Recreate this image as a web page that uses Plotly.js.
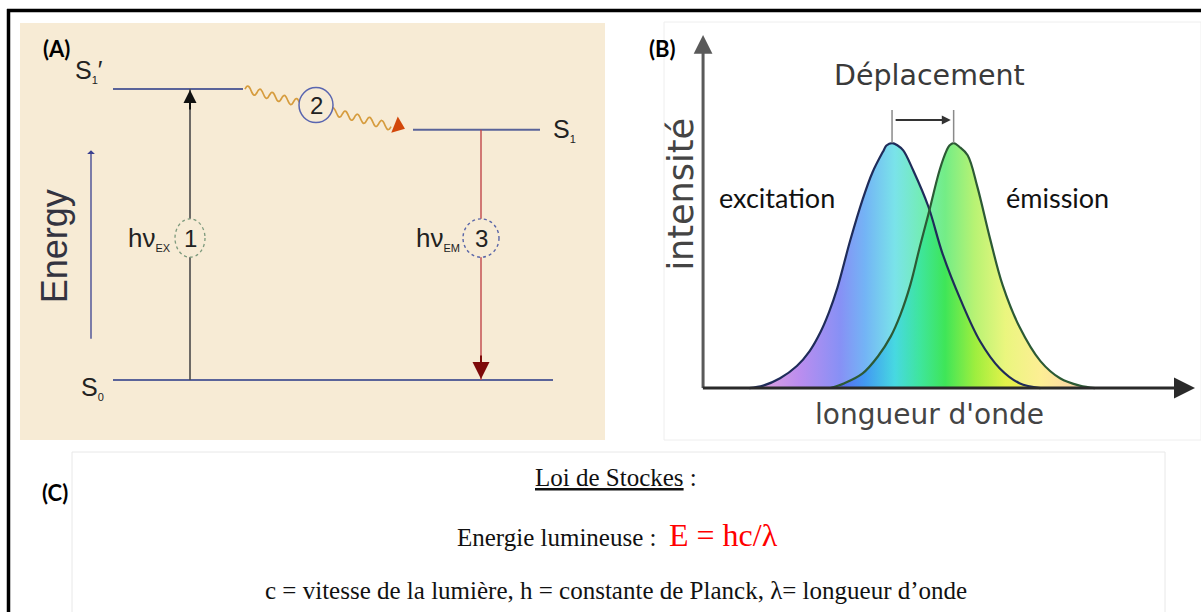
<!DOCTYPE html>
<html><head><meta charset="utf-8">
<script src="https://cdn.plot.ly/plotly-3.0.1.min.js"></script>
<style>html,body{margin:0;padding:0;background:#fff}#chart{width:1201px;height:612px}</style>
</head><body><div id="chart"></div>
<script>
// ---------------- data ----------------
// Panel A : Jablonski diagram (relative energy of the states)
const levelNames  = ['S0', 'S1', "S1'"];
const levelEnergy = [0, 0.86, 1.0];
const transitionLabels = ['1', '2', '3'];

// Panel B : excitation / emission spectra (wavelength in nm, relative intensity)
const exWavelength = [383, 393, 405, 417, 426, 434, 440, 446, 455, 464, 471, 479, 481, 485, 489, 493, 500, 511, 521, 534, 548, 562, 576, 591];
const exIntensity  = [0, 0.01, 0.04, 0.09, 0.15, 0.23, 0.31, 0.41, 0.60, 0.77, 0.88, 0.97, 0.99, 1.0, 0.99, 0.97, 0.89, 0.74, 0.55, 0.36, 0.19, 0.08, 0.02, 0];
const emWavelength = [441, 451, 464, 475, 484, 491, 498, 505, 511, 519, 524, 526, 529, 533, 539, 546, 555, 564, 576, 591, 605, 619, 630];
const emIntensity  = [0, 0.02, 0.06, 0.13, 0.21, 0.30, 0.42, 0.58, 0.71, 0.89, 0.97, 0.99, 1.0, 0.985, 0.95, 0.82, 0.61, 0.42, 0.25, 0.11, 0.04, 0.01, 0];

// ---------------- helpers ----------------
const W = 1201, H = 612;
const px = v => v / W;          // pixel -> paper x
const py = v => 1 - v / H;      // pixel -> paper y
const E = i => levelEnergy[i];
const argmax = a => a.indexOf(Math.max(...a));
const exPeak = exWavelength[argmax(exIntensity)];
const emPeak = emWavelength[argmax(emIntensity)];

function squiggle(xa, ya, xb, yb, waves, amp) {
  const xs = [], ys = [], n = waves * 12;
  for (let i = 0; i <= n; i++) {
    const t = i / n;
    xs.push(xa + (xb - xa) * t);
    ys.push(ya + (yb - ya) * t + amp * Math.sin(2 * Math.PI * waves * t));
  }
  return {xs, ys};
}

const beige = '#f7ebd5';
const levelColor = '#5a6399';
const sansA = 'Liberation Sans, Arial, sans-serif';
const sansB = 'DejaVu Sans, sans-serif';
const serif = 'Liberation Serif, Times New Roman, serif';
const lato = 'Lato, sans-serif';

const traces = [];
// energy levels
const levelSpan = [[113, 553], [413, 540], [113, 243]];
levelEnergy.forEach((e, i) => {
  traces.push({x: levelSpan[i], y: [e, e], xaxis: 'x', yaxis: 'y', mode: 'lines',
    line: {color: levelColor, width: 2}, hoverinfo: 'skip', name: levelNames[i]});
});
// transition 1 (absorption) S0 -> S1'
traces.push({x: [190, 190], y: [E(0), E(2)], xaxis: 'x', yaxis: 'y', mode: 'lines',
  line: {color: '#4a4a4a', width: 1.6}, hoverinfo: 'skip'});
// transition 3 (emission) S1 -> S0
traces.push({x: [481, 481], y: [E(1), E(0)], xaxis: 'x', yaxis: 'y', mode: 'lines',
  line: {color: '#c0474a', width: 1.4}, hoverinfo: 'skip'});
// transition 2 (vibrational relaxation) S1' -> S1 : wavy line
const sq = squiggle(245, E(2), 391, E(1) + 0.011, 12, 0.013);
traces.push({x: sq.xs, y: sq.ys, xaxis: 'x', yaxis: 'y', mode: 'lines',
  line: {color: '#d69c3e', width: 1.7, shape: 'spline'}, hoverinfo: 'skip'});
traces.push({x: [398], y: [E(1) + 0.013], xaxis: 'x', yaxis: 'y', mode: 'markers',
  marker: {symbol: 'triangle-right', size: 15, angle: 22, color: '#d2470a', line: {width: 0}}, hoverinfo: 'skip'});

// spectra
const rainbow = [
  [0.000, 'rgba(200,100,200,0.6)'],
  [0.126, 'rgba(150,80,230,0.65)'],
  [0.252, 'rgba(70,85,240,0.65)'],
  [0.330, 'rgba(40,140,240,0.65)'],
  [0.422, 'rgba(40,210,220,0.62)'],
  [0.500, 'rgba(30,225,140,0.62)'],
  [0.578, 'rgba(30,225,60,0.62)'],
  [0.670, 'rgba(140,235,30,0.62)'],
  [0.765, 'rgba(220,240,40,0.6)'],
  [0.874, 'rgba(250,225,60,0.55)'],
  [1.000, 'rgba(250,175,100,0.55)']
];
const grad = {type: 'horizontal', start: 390, stop: 620, colorscale: rainbow};
const smooth = {shape: 'spline', smoothing: 1};
traces.push({x: exWavelength, y: exIntensity, xaxis: 'x2', yaxis: 'y2', mode: 'lines', fill: 'tozeroy',
  fillgradient: grad, line: Object.assign({width: 0}, smooth), hoverinfo: 'skip', name: 'excitation'});
traces.push({x: emWavelength, y: emIntensity, xaxis: 'x2', yaxis: 'y2', mode: 'lines', fill: 'tozeroy',
  fillgradient: grad, line: Object.assign({width: 0}, smooth), hoverinfo: 'skip', name: 'émission'});
traces.push({x: exWavelength, y: exIntensity, xaxis: 'x2', yaxis: 'y2', mode: 'lines',
  line: Object.assign({color: '#1f2c5a', width: 2.2}, smooth), hoverinfo: 'skip'});
traces.push({x: emWavelength, y: emIntensity, xaxis: 'x2', yaxis: 'y2', mode: 'lines',
  line: Object.assign({color: '#2c5a35', width: 2.2}, smooth), hoverinfo: 'skip'});
// Stokes shift bracket
[exPeak, emPeak].forEach(w => traces.push({x: [w, w], y: [1.0, 1.135], xaxis: 'x2', yaxis: 'y2', mode: 'lines',
  line: {color: '#8a8a8a', width: 1.5}, hoverinfo: 'skip'}));

// ---------------- shapes ----------------
const shapes = [
  // panel backgrounds
  {type: 'rect', xref: 'paper', yref: 'paper', x0: px(20), x1: px(605), y0: py(440), y1: py(23),
   fillcolor: beige, line: {width: 0}, layer: 'below'},
  {type: 'rect', xref: 'paper', yref: 'paper', x0: px(664), x1: px(1201), y0: py(440), y1: py(22),
   fillcolor: '#ffffff', line: {color: '#eeeeee', width: 1}, layer: 'below'},
  {type: 'rect', xref: 'paper', yref: 'paper', x0: px(72), x1: px(1165), y0: py(620), y1: py(452),
   fillcolor: '#ffffff', line: {color: '#e8e8e8', width: 1}, layer: 'below'},
  // outer frame
  {type: 'line', xref: 'paper', yref: 'paper', x0: px(8.5), x1: px(8.5), y0: 0, y1: py(9), line: {color: '#000', width: 3.5}},
  {type: 'line', xref: 'paper', yref: 'paper', x0: px(7), x1: 1, y0: py(10.5), y1: py(10.5), line: {color: '#000', width: 3.5}},
  // transition circles
  {type: 'circle', xref: 'x', yref: 'y', x0: 175, x1: 205, y0: 0.488 - 0.066, y1: 0.488 + 0.066,
   fillcolor: beige, line: {color: '#7d9a7d', width: 1.3, dash: 'dot'}},
  {type: 'circle', xref: 'x', yref: 'y', x0: 299, x1: 333, y0: 0.945 - 0.060, y1: 0.945 + 0.060,
   fillcolor: beige, line: {color: '#5a66b0', width: 1.5}},
  {type: 'circle', xref: 'x', yref: 'y', x0: 463, x1: 499, y0: 0.488 - 0.066, y1: 0.488 + 0.066,
   fillcolor: beige, line: {color: '#5a66a8', width: 1.4, dash: 'dot'}}
];

// ---------------- annotations ----------------
const tA = (text, x, y, opt) => Object.assign({text, x, y, xref: 'x', yref: 'y', showarrow: false,
  xanchor: 'center', yanchor: 'middle', font: {family: sansA, size: 25, color: '#222'}}, opt || {});
const tB = (text, x, y, opt) => Object.assign({text, x, y, xref: 'x2', yref: 'y2', showarrow: false,
  xanchor: 'center', yanchor: 'middle', font: {family: sansB, size: 28, color: '#3a3a3a'}}, opt || {});
const tP = (text, x, y, opt) => Object.assign({text, x: px(x), y: py(y), xref: 'paper', yref: 'paper', showarrow: false,
  xanchor: 'center', yanchor: 'middle', font: {family: serif, size: 25, color: '#111'}}, opt || {});
const small = s => '<sub><span style="font-size:11px">' + s + '</span></sub>';

const annotations = [
  // panel labels
  tP('<b>(A)</b>', 56, 49, {font: {family: lato, size: 22, color: '#000'}}),
  tP('<b>(B)</b>', 662, 49, {font: {family: lato, size: 22, color: '#000'}}),
  tP('<b>(C)</b>', 55, 492, {font: {family: lato, size: 22, color: '#000'}}),
  // panel A
  tA('S' + small('1') + '′', 105, 1.062, {xanchor: 'right'}),
  tA('S' + small('1'), 551, E(1), {xanchor: 'left'}),
  tA('S' + small('0'), 106, -0.026, {xanchor: 'right'}),
  tA('hν' + small('EX'), 173, 0.488, {xanchor: 'right', font: {family: sansA, size: 26, color: '#222'}}),
  tA('hν' + small('EM'), 462, 0.488, {xanchor: 'right', font: {family: sansA, size: 26, color: '#222'}}),
  tA(transitionLabels[0], 190, 0.488, {font: {family: sansA, size: 24, color: '#222'}}),
  tA(transitionLabels[1], 316, 0.945, {font: {family: sansA, size: 24, color: '#222'}}),
  tA(transitionLabels[2], 481, 0.488, {font: {family: sansA, size: 24, color: '#222'}}),
  tA('Energy', 54, 0.46, {textangle: -90, font: {family: sansA, size: 36, color: '#333340'}}),
  // energy axis arrow
  {x: 91, y: 0.79, ax: 91, ay: 0.137, xref: 'x', yref: 'y', axref: 'x', ayref: 'y', text: '', showarrow: true,
   arrowhead: 1, arrowsize: 1, arrowwidth: 1.3, arrowcolor: '#3b4190'},
  // arrow heads of transitions
  {x: 190, y: E(2), ax: 0, ay: 22, xref: 'x', yref: 'y', text: '', showarrow: true,
   arrowhead: 2, arrowsize: 1.3, arrowwidth: 2, arrowcolor: '#111', standoff: 1},
  {x: 481, y: E(0), ax: 0, ay: -26, xref: 'x', yref: 'y', text: '', showarrow: true,
   arrowhead: 2, arrowsize: 1.7, arrowwidth: 2, arrowcolor: '#7e0a0a', standoff: 1},
  // panel B axes
  {x: 350, y: 1.441, ax: 350, ay: -0.006, xref: 'x2', yref: 'y2', axref: 'x2', ayref: 'y2', text: '', showarrow: true,
   arrowhead: 2, arrowsize: 1.25, arrowwidth: 3, arrowcolor: '#5a5a5a'},
  {x: 701.4, y: 0, ax: 348.8, ay: 0, xref: 'x2', yref: 'y2', axref: 'x2', ayref: 'y2', text: '', showarrow: true,
   arrowhead: 2, arrowsize: 1.4, arrowwidth: 3, arrowcolor: '#2a2a2a'},
  // Stokes shift arrow
  {x: emPeak - 2, y: 1.094, ax: exPeak + 1.5, ay: 1.094, xref: 'x2', yref: 'y2', axref: 'x2', ayref: 'y2', text: '',
   showarrow: true, arrowhead: 2, arrowsize: 0.9, arrowwidth: 2, arrowcolor: '#333'},
  tB('Déplacement', 512, 1.275, {font: {family: sansB, size: 28.5, color: '#3a3a3a'}}),
  tB('intensité', 333.6, 0.79, {textangle: -90, font: {family: sansB, size: 35, color: '#444'}}),
  tB('longueur d\'onde', 512, -0.108, {font: {family: sansB, size: 28, color: '#444'}}),
  tB('excitation', 402.9, 0.776, {font: {family: lato, size: 27, color: '#111'}}),
  tB('émission', 602.9, 0.776, {font: {family: lato, size: 27, color: '#111'}}),
  // panel C
  tP('<u>Loi de Stockes</u> :', 616, 477),
  tP('Energie lumineuse :  <span style="color:#ff0000;font-size:32px">E = hc/λ</span>', 617, 535),
  tP('c = vitesse de la lumière, h = constante de Planck, λ= longueur d’onde', 616, 590)
];

const hidden = {visible: false, fixedrange: true};
const layout = {
  width: W, height: H, margin: {l: 0, r: 0, t: 0, b: 0},
  paper_bgcolor: '#ffffff', plot_bgcolor: 'rgba(0,0,0,0)', showlegend: false,
  xaxis:  Object.assign({domain: [px(20), px(605)], range: [20, 605]}, hidden),
  yaxis:  Object.assign({domain: [py(440), py(23)], range: [-0.206, 1.227]}, hidden),
  xaxis2: Object.assign({domain: [px(664), 1], range: [322.1, 705.7]}, hidden),
  yaxis2: Object.assign({domain: [py(440), py(23)], range: [-0.212, 1.490]}, hidden),
  shapes, annotations
};
Plotly.newPlot('chart', traces, layout, {staticPlot: true, displayModeBar: false});
</script></body></html>
